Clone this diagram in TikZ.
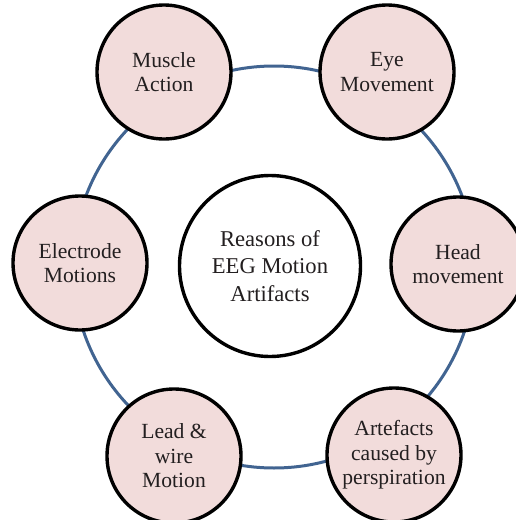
\documentclass[tikz,border=0pt]{standalone}
\usepackage{fontspec}
\setmainfont{Liberation Serif}
\definecolor{petal}{RGB}{242,220,219}
\definecolor{ringblue}{RGB}{65,100,145}
\definecolor{inktext}{RGB}{35,31,32}
\tikzset{
	reason/.style={circle,draw=black,line width=1.7pt,fill=petal,minimum size=67pt,inner sep=0pt,align=center,text=inktext,font=\fontsize{10.8}{12.3}\selectfont},
	hub/.style={circle,draw=black,line width=1.7pt,fill=white,minimum size=90.5pt,inner sep=0pt,align=center,text=inktext,font=\fontsize{11.3}{13.6}\selectfont},
	ring/.style={draw=ringblue,line width=1.5pt}
}
\begin{document}
\begin{tikzpicture}[x=0.5pt,y=-0.5pt]
	\useasboundingbox (0,0) rectangle (515,520);
	% Ring
	\coordinate (ringc) at (274,267);
	\draw [ring] (ringc) circle [radius=100.5pt];
	% Centre
	\node[hub] (reasons) at (270,266) {Reasons of\\EEG Motion\\Artifacts};
	% Reasons
	\node[reason] (muscle) at (164,72) {Muscle\\Action};
	\node[reason] (eye) at (387,72) {Eye\\Movement};
	\node[reason] (head) at (458,264) {Head\\movement};
	\node[reason] (sweat) at (394,455) {Artefacts\\caused by\\perspiration};
	\node[reason] (lead) at (174,456) {Lead \&\\wire\\Motion};
	\node[reason] (electrode) at (80,263) {Electrode\\Motions};
\end{tikzpicture}
\end{document}
